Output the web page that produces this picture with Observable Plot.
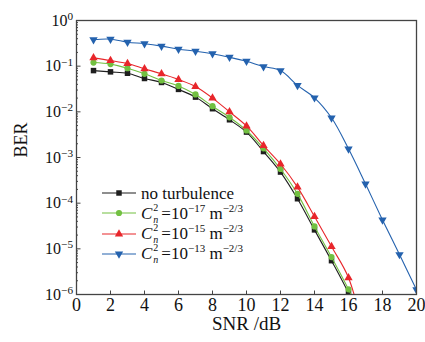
<!DOCTYPE html>
<html><head><meta charset="utf-8">
<script src="https://cdn.jsdelivr.net/npm/d3@7"></script>
<script src="https://cdn.jsdelivr.net/npm/@observablehq/plot@0.6"></script>
<style>
body{margin:0;background:#fff;}
#wrap{position:relative;width:425px;height:342px;overflow:hidden;}
#wrap svg text{font-family:"Liberation Serif",serif !important;}
#legend{position:absolute;left:0;top:0;font-family:"Liberation Serif",serif;font-size:17px;color:#111;}
.row{position:absolute;left:102px;height:20px;display:flex;align-items:center;white-space:nowrap;line-height:17px;}
.row svg{margin-right:5px;}
.stk{position:relative;display:inline-block;width:9px;height:12px;}
.stk .sp{position:absolute;left:1px;top:-4px;font-size:10px;line-height:9px;}
.stk .sb{position:absolute;left:1px;top:8px;font-size:10px;line-height:9px;font-style:italic;}
.sup{font-size:11px;line-height:11px;position:relative;top:-7px;}
</style></head><body><div id="wrap"></div>
<script>
// SNR values (dB)
const snrShort = [1,2,3,4,5,6,7,8,9,10,11,12,13,14,15,16,17];
const snrLong  = [1,2,3,4,5,6,7,8,9,10,11,12,13,14,15,16,17,18,19,20];
// BER series
const berNoTurb = [0.080,0.075,0.070,0.0537,0.044,0.031,0.021,0.0117,0.0067,0.0036,0.00135,4.8e-4,1.25e-4,2.6e-5,5.5e-6,1.07e-6,1.5e-7];
const berCn17  = [0.120,0.111,0.090,0.068,0.0485,0.037,0.024,0.0133,0.0076,0.0039,0.00159,5.6e-4,1.6e-4,3.1e-5,6.6e-6,1.3e-6,2.0e-7];
const berCn15  = [0.152,0.133,0.114,0.0875,0.068,0.051,0.0359,0.020,0.0100,0.0049,0.00183,7.2e-4,2.24e-4,5.1e-5,1.12e-5,2.33e-6,1.0e-7];
const berCn13  = [0.38,0.39,0.335,0.31,0.275,0.235,0.213,0.187,0.157,0.128,0.098,0.080,0.038,0.0203,0.0074,0.00155,2.65e-4,4.3e-5,7.5e-6,1.27e-6];
// tick labels
const xTicks = [0,2,4,6,8,10,12,14,16,18,20];
const yDecades = [1e-6,1e-5,1e-4,1e-3,1e-2,1e-1,1];
const yMinor = [];
for (const d of [1e-6,1e-5,1e-4,1e-3,1e-2,1e-1]) for (const m of [2,3,4,5,6,7,8,9]) yMinor.push(d*m);
const xTitle = ["SNR /dB"];
const yTitle = ["BER"];
// legend
const legendNames = ["no turbulence", "−17", "−15", "−13"];
const colors = ["#1e1e1e", "#72c041", "#e8262b", "#2462ae"];
const symbols = ["square", "circle", "triangle", "triangle"];
const rotations = [0, 0, 0, 180];

const series = [
  {x: snrShort, y: berNoTurb},
  {x: snrShort, y: berCn17},
  {x: snrShort, y: berCn15},
  {x: snrLong,  y: berCn13}
];

const FF = "Liberation Serif, serif";
const marks = [];
series.forEach((s, k) => {
  const data = s.y.map((v, i) => ({x: s.x[i], y: v}));
  marks.push(Plot.line(data, {x: "x", y: "y", stroke: colors[k], strokeWidth: 1.1, curve: "catmull-rom", clip: true}));
  marks.push(Plot.dot(data, {x: "x", y: "y", fill: colors[k], stroke: "none", r: 3.1, symbol: symbols[k], rotate: rotations[k], clip: true}));
});

const chart = Plot.plot({
  width: 425, height: 342,
  marginLeft: 76, marginRight: 9, marginTop: 20, marginBottom: 48,
  style: {fontFamily: FF, fontSize: "16px", background: "white", color: "#111", overflow: "visible"},
  x: {domain: [0, 20]},
  y: {type: "log", domain: [1e-6, 1]},
  marks: [
    Plot.axisY({ticks: yMinor, tickSize: -2, tickFormat: () => "", label: null, stroke: "#444"}),
    Plot.axisY({ticks: yDecades, tickSize: -4.5, tickPadding: 8, fontSize: 16, fontFamily: FF, label: null, stroke: "#444",
      tickFormat: d => String(Math.round(Math.log10(d)))}),
    Plot.axisX({ticks: xTicks, tickSize: -3.5, tickPadding: 7, fontSize: 18, fontFamily: FF, label: null, stroke: "#444"}),
    ...marks,
    Plot.frame({stroke: "#444", strokeWidth: 1.3}),
    Plot.text(xTitle, {text: d => d, frameAnchor: "bottom", dy: 35, fontSize: 19, fontFamily: FF}),
    Plot.text(yTitle, {text: d => d, frameAnchor: "left", dx: -55, rotate: -90, fontSize: 18, fontFamily: FF})
  ]
});

document.getElementById("wrap").appendChild(chart);

// superscript exponents on y tick labels
d3.select(chart).selectAll("text").each(function() {
  const t = d3.select(this);
  const parent = this.parentNode && this.parentNode.getAttribute && this.parentNode.getAttribute("aria-label");
  if (parent !== "y-axis tick label") return;
  const s = this.textContent;
  if (!s) return;
  t.text("");
  t.append("tspan").text("10");
  t.append("tspan").attr("dy", "-0.5em").attr("font-size", "0.7em").text(s.replace("-", "−"));
});
d3.select(chart).selectAll("text").style("font-family", "'Liberation Serif', serif");

// legend
const legend = document.createElement("div");
legend.id = "legend";
legendNames.forEach((name, k) => {
  const row = document.createElement("div");
  row.className = "row";
  row.style.top = (183 + k * 20.3) + "px";
  const sw = d3.create("svg").attr("width", 34).attr("height", 12);
  sw.append("line").attr("x1", 0).attr("x2", 34).attr("y1", 6).attr("y2", 6).attr("stroke", colors[k]).attr("stroke-width", 1.2);
  const sym = {square: d3.symbolSquare, circle: d3.symbolCircle, triangle: d3.symbolTriangle}[symbols[k]];
  sw.append("path").attr("d", d3.symbol(sym, 30)()).attr("fill", colors[k])
    .attr("transform", `translate(17,6) rotate(${rotations[k]})`);
  row.appendChild(sw.node());
  const label = document.createElement("span");
  if (k === 0) label.textContent = name;
  else label.innerHTML = `<i>C</i><span class="stk"><span class="sp">2</span><span class="sb">n</span></span>=10<span class="sup">${name}</span> m<span class="sup">−2/3</span>`;
  row.appendChild(label);
  legend.appendChild(row);
});
document.getElementById("wrap").appendChild(legend);
</script></body></html>
